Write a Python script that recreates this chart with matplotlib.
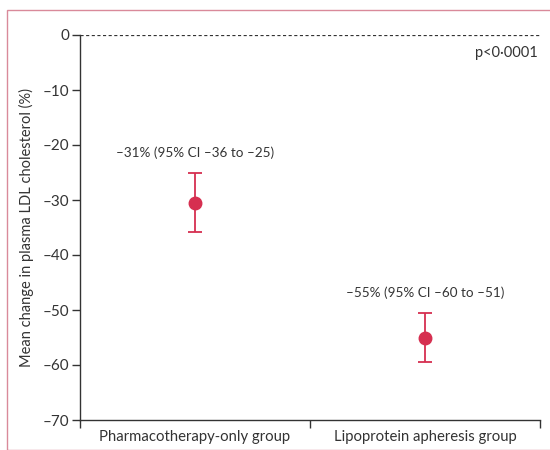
import matplotlib
matplotlib.use('Agg')
import matplotlib.pyplot as plt
from matplotlib.patches import Rectangle
from matplotlib.ticker import FuncFormatter

groups = ['Pharmacotherapy-only group', 'Lipoprotein apheresis group']
means = [-30.5, -55.0]
ci_low = [-35.8, -59.5]
ci_high = [-25.1, -50.5]
labels = ['\u201331% (95% CI \u201336 to \u201325)', '\u201355% (95% CI \u201360 to \u201351)']
p_text = 'p<0\u00b70001'

plt.rcParams['font.family'] = ['Lato', 'DejaVu Sans']
txt = '#333333'
red = '#d62f50'

fig = plt.figure(figsize=(5.5, 4.5), dpi=100)
fig.patches.append(Rectangle((7/550, 0), 1.0, 1 - 10/450, transform=fig.transFigure,
                             fill=False, edgecolor='#d98a9a', linewidth=1.0))
ax = fig.add_axes([80/550, 30/450, 460/550, 385/450])

xs = [0.5, 1.5]
for x, m, lo, hi, lab in zip(xs, means, ci_low, ci_high, labels):
    ax.errorbar(x, m, yerr=[[m - lo], [hi - m]], fmt='o', color=red, ecolor=red,
                markersize=9, capsize=5, elinewidth=1.3, capthick=1.3)
    ax.text(x, hi + 3.7, lab, ha='center', va='center', fontsize=9.7, color=txt)

ax.axhline(0, color=txt, linestyle=(0, (2.5, 2)), linewidth=0.9)
ax.text(1.99, -3.2, p_text, ha='right', va='center', fontsize=10.5, color=txt)

ax.set_xlim(0, 2)
ax.set_ylim(-70, 0)
ax.set_yticks(range(-70, 1, 10))
ax.yaxis.set_major_formatter(FuncFormatter(lambda v, p: f'{int(v)}'.replace('-', '\u2013')))
ax.set_xticks([0, 1, 2])
ax.set_xticklabels([])
ax.set_xticks(xs, minor=True)
ax.set_xticklabels(groups, minor=True, fontsize=10.7, color=txt)
ax.tick_params(axis='x', which='minor', length=0, pad=7)
ax.tick_params(axis='x', which='major', length=6, width=1, color=txt)
ax.tick_params(axis='y', length=6, width=1, color=txt, labelcolor=txt, labelsize=11, pad=2)
for s in ['top', 'right']:
    ax.spines[s].set_visible(False)
for s in ['left', 'bottom']:
    ax.spines[s].set_color(txt)
    ax.spines[s].set_linewidth(1)
ax.set_ylabel('Mean change in plasma LDL cholesterol (%)', fontsize=10.5, color=txt, labelpad=6)

fig.savefig('out.png', dpi=100)
